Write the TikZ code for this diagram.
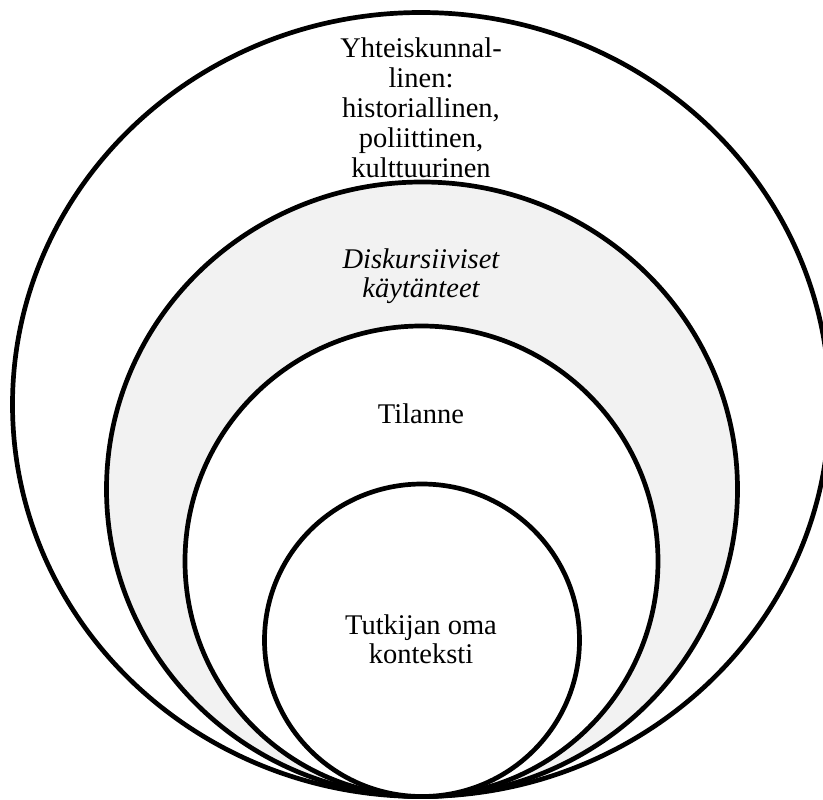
\documentclass[tikz,border=0pt]{standalone}
\usepackage{fontspec}
\setmainfont{Liberation Serif}
\definecolor{ringgray}{HTML}{F2F2F2}
\tikzset{
  ring/.style={draw=black, line width=4.7pt},
  lbl/.style={inner sep=0pt, align=center, font=\fontsize{28.5}{30}\selectfont},
}
\begin{document}
\begin{tikzpicture}[x=1pt,y=1pt]
\useasboundingbox (0,0) rectangle (823,-800);
\clip (0,0) rectangle (823,-800);
\fill[white] (0,0) rectangle (823,-800);
\draw[ring, fill=white] (421,-404.5) ellipse [x radius=408.5, y radius=392];
\draw[ring, fill=ringgray] (422,-489.25) ellipse [x radius=315.5, y radius=307.25];
\draw[ring, fill=white] (421.5,-561.25) ellipse [x radius=236.5, y radius=235.25];
\draw[ring, fill=white] (422,-640.25) ellipse [x radius=157.5, y radius=156.25];
\node[lbl] (soc) at (421,-108) {Yhteiskunnal-\\linen:\\historiallinen,\\poliittinen,\\kulttuurinen};
\node[lbl, font=\fontsize{28.5}{29.5}\selectfont\itshape] (disk) at (421,-276) {Diskursiiviset\\käytänteet};
\node[lbl] (til) at (421,-413.5) {Tilanne};
\node[lbl, font=\fontsize{28.5}{29}\selectfont] (tut) at (421,-639.5) {Tutkijan oma\\konteksti};
\end{tikzpicture}
\end{document}
